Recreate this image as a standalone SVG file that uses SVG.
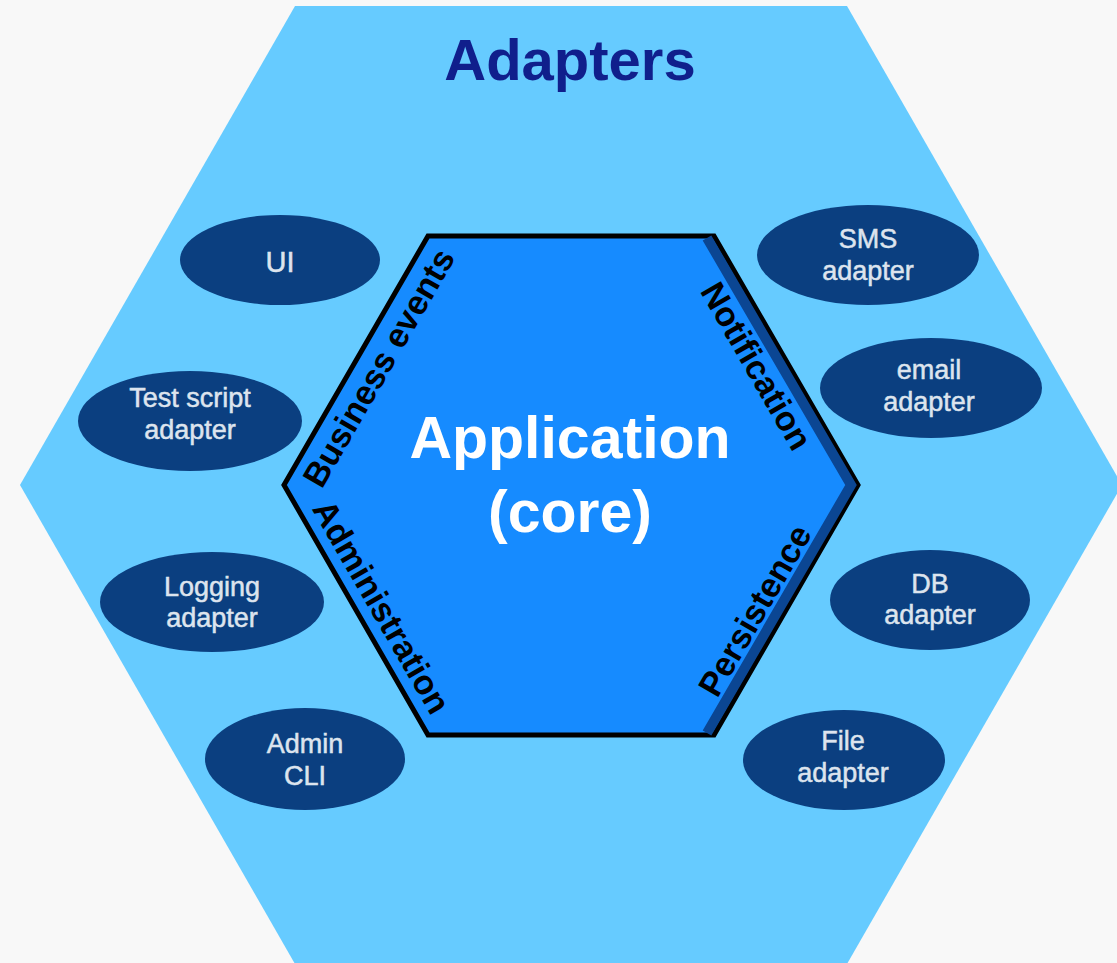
<svg xmlns="http://www.w3.org/2000/svg" width="1117" height="963" viewBox="0 0 1117 963">
  <style>
    .title { font-family: "Liberation Sans", Arial, sans-serif; font-weight: bold; font-size: 58px; fill: #101F8C; text-anchor: middle; }
    .core { font-family: "Liberation Sans", Arial, sans-serif; font-weight: bold; font-size: 59px; fill: #FFFFFF; text-anchor: middle; }
    .port { font-family: "Liberation Sans", Arial, sans-serif; font-weight: bold; font-size: 34px; fill: #000000; text-anchor: middle; }
    .adapter ellipse { fill: #0B3F80; }
    .adapter text { font-family: "Liberation Sans", Arial, sans-serif; font-size: 27px; fill: #DDE4EE; stroke: #DDE4EE; stroke-width: 0.5; text-anchor: middle; }
  </style>
  <rect x="0" y="0" width="1117" height="963" fill="#F8F8F8"/>

  <g id="adapters-layer">
    <polygon points="295,6 847,6 1122,485 847,964 295,964 20,485" fill="#66CBFF"/>
    <text class="title" x="570" y="80">Adapters</text>
  </g>

  <g id="application-core">
    <polygon points="428,236 714,236 858,485 714,735 428,735 284,485" fill="#168BFF" stroke="#000000" stroke-width="5" stroke-linejoin="miter"/>
    <polyline points="707,238 851,485 707,733" fill="none" stroke="#0B4693" stroke-width="10" stroke-linejoin="miter"/>
    <text class="core" x="570" y="458">Application</text>
    <text class="core" x="570" y="532">(core)</text>
  </g>

  <g id="port-business-events">
    <text class="port" transform="translate(356,360.5) rotate(-60)" x="5" y="35">Business events</text>
  </g>
  <g id="port-administration">
    <text class="port" transform="translate(356,610) rotate(60)" x="10" y="-12">Administration</text>
  </g>
  <g id="port-notification">
    <text class="port" transform="translate(786,360.5) rotate(60)" x="-10" y="40">Notification</text>
  </g>
  <g id="port-persistence">
    <text class="port" transform="translate(786,610) rotate(-60)" x="-16" y="-15">Persistence</text>
  </g>

  <g id="ui" class="adapter">
    <ellipse cx="280" cy="260" rx="100" ry="45"/>
    <text x="280" y="272" style="font-size:29px">UI</text>
  </g>
  <g id="test-script-adapter" class="adapter">
    <ellipse cx="190" cy="421" rx="112" ry="50"/>
    <text x="190" y="407">Test script</text>
    <text x="190" y="439">adapter</text>
  </g>
  <g id="logging-adapter" class="adapter">
    <ellipse cx="212" cy="602" rx="112" ry="50"/>
    <text x="212" y="596">Logging</text>
    <text x="212" y="627">adapter</text>
  </g>
  <g id="admin-cli" class="adapter">
    <ellipse cx="305" cy="759" rx="100" ry="51"/>
    <text x="305" y="753">Admin</text>
    <text x="305" y="785">CLI</text>
  </g>
  <g id="sms-adapter" class="adapter">
    <ellipse cx="868" cy="255" rx="111" ry="50"/>
    <text x="868" y="248">SMS</text>
    <text x="868" y="280">adapter</text>
  </g>
  <g id="email-adapter" class="adapter">
    <ellipse cx="931" cy="388" rx="111" ry="50"/>
    <text x="929" y="379">email</text>
    <text x="929" y="411">adapter</text>
  </g>
  <g id="db-adapter" class="adapter">
    <ellipse cx="930" cy="600" rx="100" ry="50"/>
    <text x="930" y="593">DB</text>
    <text x="930" y="624">adapter</text>
  </g>
  <g id="file-adapter" class="adapter">
    <ellipse cx="844" cy="760" rx="101" ry="50"/>
    <text x="843" y="750">File</text>
    <text x="843" y="782">adapter</text>
  </g>

  <g id="connectors"></g>
</svg>
